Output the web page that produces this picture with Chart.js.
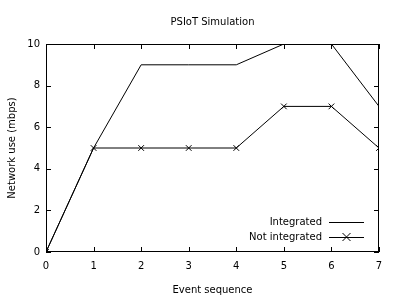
<!DOCTYPE html>
<html>
<head>
<meta charset="utf-8">
<script src="https://cdn.jsdelivr.net/npm/chart.js@4/dist/chart.umd.min.js"></script>
<style>
    html, body { margin: 0; padding: 0; background: #fff; }
    #wrap { width: 400px; height: 300px; }
</style>
</head>
<body>
<div id="wrap"><canvas id="psiotChart" width="400" height="300"></canvas></div>
<script>
const events = [0, 1, 2, 3, 4, 5, 6, 7];
const integrated = [0, 5, 9, 9, 9, 10, 10, 7];
const notIntegrated = [0, 5, 5, 5, 5, 7, 7, 5];
const seriesNames = ['Integrated', 'Not integrated'];
const chartTitle = 'PSIoT Simulation';

const FONT = 'DejaVu Sans';

// gnuplot style: full border, inward ticks on all four sides, legend bottom right
const gnuplotFrame = {
    id: 'gnuplotFrame',
    afterDatasetsDraw(chart) {
        const { ctx, chartArea: a, scales } = chart;
        ctx.save();
        ctx.strokeStyle = '#000';
        ctx.lineWidth = 1;
        ctx.strokeRect(a.left + 0.5, a.top + 0.5, a.right - a.left - 1, a.bottom - a.top - 1);

        ctx.beginPath();
        scales.x.ticks.forEach(t => {
            const px = Math.round(scales.x.getPixelForValue(t.value)) + 0.5;
            ctx.moveTo(px, a.bottom); ctx.lineTo(px, a.bottom - 5);
            ctx.moveTo(px, a.top); ctx.lineTo(px, a.top + 5);
        });
        scales.y.ticks.forEach(t => {
            const py = Math.round(scales.y.getPixelForValue(t.value)) + 0.5;
            ctx.moveTo(a.left, py); ctx.lineTo(a.left + 5, py);
            ctx.moveTo(a.right, py); ctx.lineTo(a.right - 5, py);
        });
        ctx.stroke();

        ctx.font = '10px ' + FONT;
        ctx.fillStyle = '#000';
        ctx.textBaseline = 'middle';

        // title centred over the plot, like gnuplot
        ctx.textAlign = 'center';
        ctx.fillText(chartTitle, (a.left + a.right) / 2, 22);

        // legend
        ctx.textAlign = 'right';
        const textX = 322, lineX0 = 329, lineX1 = 364;
        const rows = [222, 237];
        chart.data.datasets.forEach((ds, i) => {
            const y = rows[i];
            ctx.fillText(ds.label, textX, y);
            ctx.beginPath();
            ctx.moveTo(lineX0, y + 0.5); ctx.lineTo(lineX1, y + 0.5);
            ctx.stroke();
            if (ds.pointStyle === 'crossRot') {
                const cx = (lineX0 + lineX1) / 2, r = 4;
                ctx.beginPath();
                ctx.moveTo(cx - r, y - r); ctx.lineTo(cx + r, y + r);
                ctx.moveTo(cx - r, y + r); ctx.lineTo(cx + r, y - r);
                ctx.stroke();
            }
        });
        ctx.restore();
    }
};

new Chart(document.getElementById('psiotChart').getContext('2d'), {
    type: 'line',
    data: {
        labels: events,
        datasets: [
            { label: seriesNames[0], data: integrated, borderColor: '#000', borderWidth: 1, pointRadius: 0, tension: 0, fill: false },
            { label: seriesNames[1], data: notIntegrated, borderColor: '#000', borderWidth: 1, pointStyle: 'crossRot', pointRadius: 4, pointBorderColor: '#000', pointBorderWidth: 1, tension: 0, fill: false }
        ]
    },
    options: {
        responsive: false,
        animation: false,
        layout: { padding: { left: 0, right: 21, top: 44, bottom: 0 } },
        plugins: {
            legend: { display: false },
            tooltip: { enabled: false },
            title: { display: false }
        },
        scales: {
            x: {
                type: 'linear',
                min: 0, max: 7,
                afterFit: s => { s.height = 48; },
                ticks: { stepSize: 1, color: '#000', padding: 8, font: { family: FONT, size: 10 } },
                grid: { display: false, drawTicks: false },
                border: { display: false },
                title: { display: true, text: 'Event sequence', color: '#000', font: { family: FONT, size: 10 }, padding: { top: 0, bottom: 4 } }
            },
            y: {
                min: 0, max: 10,
                afterFit: s => { s.width = 46; },
                ticks: { stepSize: 2, color: '#000', padding: 6, font: { family: FONT, size: 10 } },
                grid: { display: false, drawTicks: false },
                border: { display: false },
                title: { display: true, text: 'Network use (mbps)', color: '#000', font: { family: FONT, size: 10 }, padding: { top: 6, bottom: 0 } }
            }
        }
    },
    plugins: [gnuplotFrame]
});
</script>
</body>
</html>
